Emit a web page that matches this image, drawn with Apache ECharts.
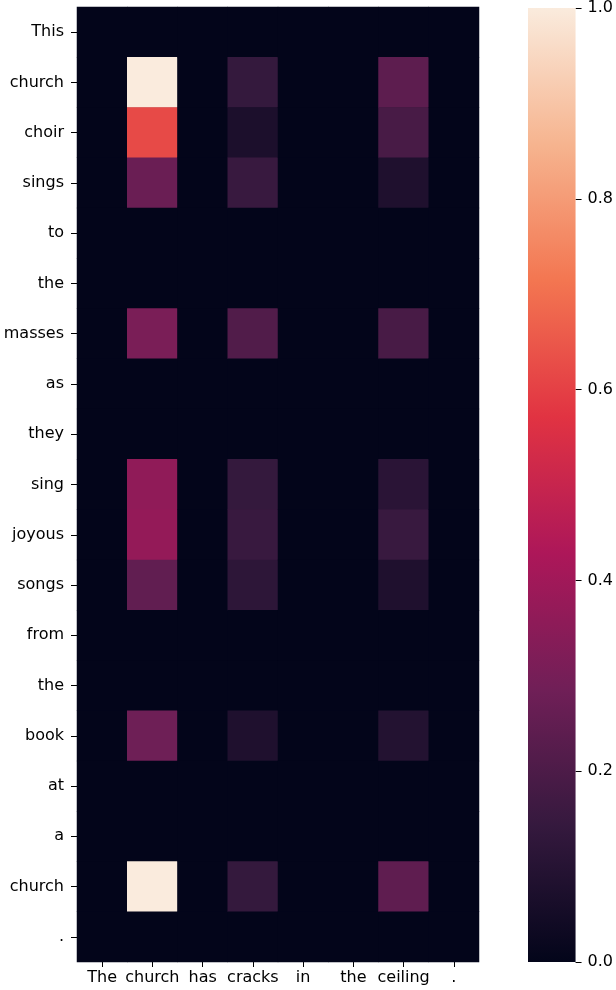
<!DOCTYPE html>
<html>
<head>
<meta charset="utf-8">
<script src="https://cdn.jsdelivr.net/npm/echarts@6/dist/echarts.min.js"></script>
<style>html,body{margin:0;padding:0;background:#fff}#c{width:616px;height:990px}</style>
</head>
<body>
<div id="c"></div>
<script>
const xCategories = ["The", "church", "has", "cracks", "in", "the", "ceiling", "."];
const yCategories = ["This", "church", "choir", "sings", "to", "the", "masses", "as", "they", "sing", "joyous", "songs", "from", "the", "book", "at", "a", "church", "."];
// values per source column (one value per row in yCategories)
const colThe     = [0,0,0,0,0,0,0,0,0,0,0,0,0,0,0,0,0,0,0];
const colChurch  = [0,1.0,0.62,0.27,0,0,0.31,0,0,0.36,0.37,0.25,0,0,0.28,0,0,1.0,0];
const colHas     = [0,0,0,0,0,0,0,0,0,0,0,0,0,0,0,0,0,0,0];
const colCracks  = [0,0.14,0.07,0.15,0,0,0.21,0,0,0.14,0.15,0.12,0,0,0.08,0,0,0.14,0];
const colIn      = [0,0,0,0,0,0,0,0,0,0,0,0,0,0,0,0,0,0,0];
const colThe2    = [0,0,0,0,0,0,0,0,0,0,0,0,0,0,0,0,0,0,0];
const colCeiling = [0,0.24,0.19,0.08,0,0,0.19,0,0,0.11,0.15,0.08,0,0,0.09,0,0,0.245,0];
const colDot     = [0,0,0,0,0,0,0,0,0,0,0,0,0,0,0,0,0,0,0];
const colorbarTicks = [0, 0.2, 0.4, 0.6, 0.8, 1.0];

const columns = [colThe, colChurch, colHas, colCracks, colIn, colThe2, colCeiling, colDot];
const rocket = ['#03051a','#35193e','#701f57','#ad1759','#e13342','#f37651','#f6b48f','#faebdd'];

const data = [];
columns.forEach((col, xi) => col.forEach((v, yi) => data.push([xi, yi, v])));

const font = 'DejaVu Sans';
const fs = 16;
const chart = echarts.init(document.getElementById('c'));
const gradStops = rocket.map((c, i) => ({offset: 1 - i / (rocket.length - 1), color: c}));

chart.setOption({
  animation: false,
  backgroundColor: '#ffffff',
  grid: [
    {left: 77, top: 7, width: 402, height: 955, show: true, backgroundColor: rocket[0], borderWidth: 0},
    {left: 528, top: 7, width: 48, height: 955}
  ],
  xAxis: [
    {type: 'category', gridIndex: 0, data: xCategories,
     axisLine: {show: false},
     axisTick: {show: true, alignWithLabel: true, length: 5, lineStyle: {color: '#000', width: 1}},
     axisLabel: {interval: 0, color: '#000', fontFamily: font, fontSize: fs, margin: 8},
     splitLine: {show: false}},
    {type: 'category', gridIndex: 1, data: ['cb'], show: false}
  ],
  yAxis: [
    {type: 'category', gridIndex: 0, data: yCategories, inverse: true,
     axisLine: {show: false},
     axisTick: {show: true, alignWithLabel: true, length: 6, lineStyle: {color: '#000', width: 1}},
     axisLabel: {interval: 0, color: '#000', fontFamily: font, fontSize: fs, margin: 13},
     splitLine: {show: false}},
    {type: 'value', gridIndex: 1, min: 0, max: 1, interval: 0.2, position: 'right',
     axisLine: {show: false},
     axisTick: {show: true, length: 6, lineStyle: {color: '#000', width: 1}},
     axisLabel: {color: '#000', fontFamily: font, fontSize: fs, margin: 12,
       formatter: v => colorbarTicks.some(t => Math.abs(t - v) < 1e-9) ? v.toFixed(1) : ''},
     splitLine: {show: false}}
  ],
  visualMap: {
    show: false, type: 'continuous', min: 0, max: 1, seriesIndex: 0, dimension: 2,
    inRange: {color: rocket}
  },
  series: [
    {type: 'heatmap', xAxisIndex: 0, yAxisIndex: 0, data: data,
     itemStyle: {borderWidth: 0}, emphasis: {disabled: true}},
    {type: 'bar', xAxisIndex: 1, yAxisIndex: 1, data: [1], barWidth: '100%', silent: true,
     itemStyle: {color: new echarts.graphic.LinearGradient(0, 0, 0, 1, gradStops)}}
  ]
});
</script>
</body>
</html>
